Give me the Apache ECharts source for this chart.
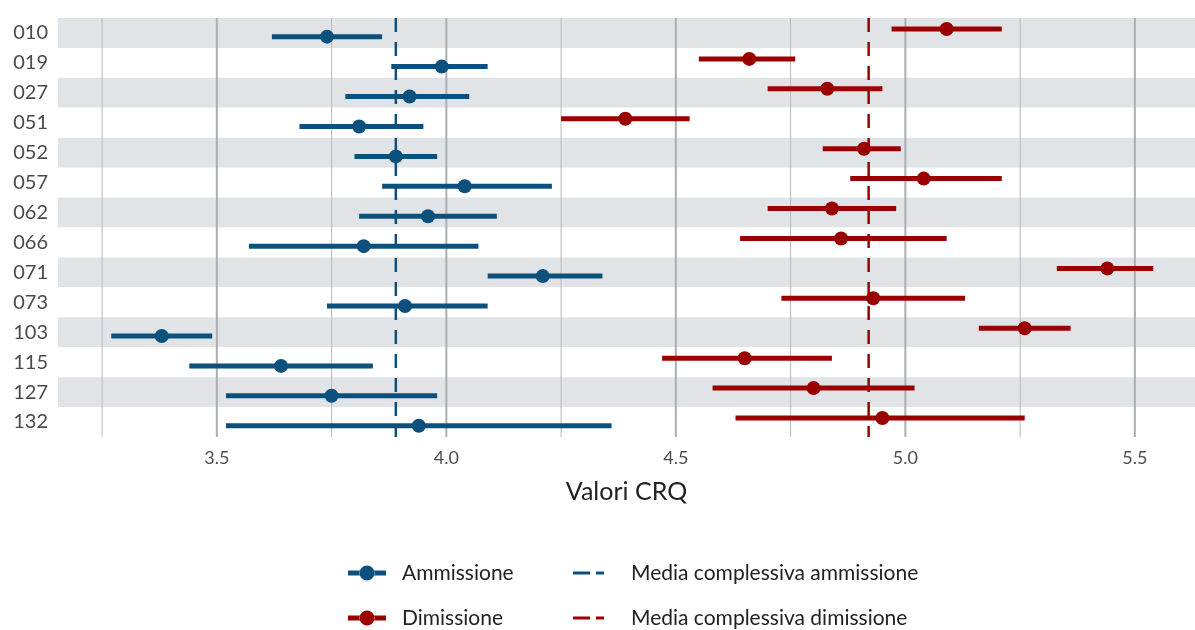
<!DOCTYPE html>
<html>
<head>
<meta charset="utf-8">
<script src="https://cdn.jsdelivr.net/npm/echarts@6/dist/echarts.min.js"></script>
<style>
  html, body { margin: 0; padding: 0; background: #fff; }
  #chart { width: 1195px; height: 630px; }
</style>
</head>
<body>
<div id="chart"></div>
<script>
const categories = ['010', '019', '027', '051', '052', '057', '062', '066', '071', '073', '103', '115', '127', '132']

// Ammissione: lower bound, mean, upper bound
const ammLow = [3.62, 3.88, 3.78, 3.68, 3.80, 3.86, 3.81, 3.57, 4.09, 3.74, 3.27, 3.44, 3.52, 3.52]
const ammMean = [3.74, 3.99, 3.92, 3.81, 3.89, 4.04, 3.96, 3.82, 4.21, 3.91, 3.38, 3.64, 3.75, 3.94]
const ammHigh = [3.86, 4.09, 4.05, 3.95, 3.98, 4.23, 4.11, 4.07, 4.34, 4.09, 3.49, 3.84, 3.98, 4.36]

// Dimissione
const dimLow = [4.97, 4.55, 4.70, 4.25, 4.82, 4.88, 4.70, 4.64, 5.33, 4.73, 5.16, 4.47, 4.58, 4.63]
const dimMean = [5.09, 4.66, 4.83, 4.39, 4.91, 5.04, 4.84, 4.86, 5.44, 4.93, 5.26, 4.65, 4.80, 4.95]
const dimHigh = [5.21, 4.76, 4.95, 4.53, 4.99, 5.21, 4.98, 5.09, 5.54, 5.13, 5.36, 4.84, 5.02, 5.26]

// overall means
const overallAmm = [3.89]
const overallDim = [4.92]

const majorTicks = [3.5, 4.0, 4.5, 5.0, 5.5]
const minorTicks = [3.25, 3.75, 4.25, 4.75, 5.25]

const blue = '#0c507d'
const red = '#9b0000'
const font = 'Lato'

const chart = echarts.init(document.getElementById('chart'))

function rows(lo, mid, hi) {
  return categories.map((c, i) => [i, lo[i], mid[i], hi[i]])
}

function errorBar(offset, color) {
  return function(params, api) {
    const yi = api.value(0)
    const a = api.coord([api.value(1), yi])
    const m = api.coord([api.value(2), yi])
    const b = api.coord([api.value(3), yi])
    const y = a[1] + offset
    return {
      type: 'group',
      children: [
        { type: 'line', shape: { x1: a[0], y1: y, x2: b[0], y2: y }, style: { stroke: color, lineWidth: 5 } },
        { type: 'circle', shape: { cx: m[0], cy: y, r: 7 }, style: { fill: color } }
      ]
    }
  }
}

function vLine(color, width, dash) {
  return function(params, api) {
    const cs = params.coordSys
    const x = api.coord([api.value(0), 0])[0]
    return {
      type: 'line',
      shape: { x1: x, y1: cs.y, x2: x, y2: cs.y + cs.height },
      style: { stroke: color, lineWidth: width, lineDash: dash }
    }
  }
}

const barIcon = 'path://M0,5h12v5H0z M26,5h12v5H26z M11.5,7.5a7.5,7.5 0 1 0 15,0a7.5,7.5 0 1 0 -15,0z'
const dashIcon = 'path://M0,0h17v3H0z M23,0h8v3H23z'

const option = {
  animation: false,
  textStyle: { fontFamily: font },
  grid: { left: 58, right: 0, top: 18, bottom: 193 },
  xAxis: {
    type: 'value',
    min: 3.154,
    max: 5.631,
    name: 'Valori CRQ',
    nameLocation: 'middle',
    nameGap: 42,
    nameTextStyle: { fontSize: 25, color: '#222', fontFamily: font },
    axisLine: { show: false },
    axisTick: { show: false },
    splitLine: { show: false },
    axisLabel: {
      customValues: majorTicks,
      formatter: v => v.toFixed(1),
      fontSize: 18,
      color: '#4d4d4d',
      margin: 12
    }
  },
  yAxis: {
    type: 'category',
    data: categories,
    inverse: true,
    axisLine: { show: false },
    axisTick: { show: false },
    splitLine: { show: false },
    splitArea: { show: true, areaStyle: { color: ['#e1e4e7', '#ffffff'] } },
    axisLabel: { fontSize: 20, color: '#4a4a4a', margin: 10 }
  },
  legend: [
    {
      orient: 'vertical',
      left: 348,
      top: 562,
      height: 70,
      padding: 0,
      itemGap: 23,
      itemWidth: 38,
      itemHeight: 15,
      textStyle: { fontSize: 21, color: '#222', lineHeight: 22, padding: [0, 0, 0, 11] },
      data: [
        { name: 'Ammissione', icon: barIcon, itemStyle: { color: blue, borderWidth: 0 } },
        { name: 'Dimissione', icon: barIcon, itemStyle: { color: red, borderWidth: 0 } }
      ]
    },
    {
      orient: 'vertical',
      left: 573,
      top: 562,
      height: 70,
      padding: 0,
      itemGap: 23,
      itemWidth: 31,
      itemHeight: 3,
      textStyle: { fontSize: 21, color: '#222', lineHeight: 22, padding: [0, 0, 0, 22] },
      data: [
        { name: 'Media complessiva ammissione', icon: dashIcon, itemStyle: { color: blue, borderWidth: 0 } },
        { name: 'Media complessiva dimissione', icon: dashIcon, itemStyle: { color: red, borderWidth: 0 } }
      ]
    }
  ],
  series: [
    {
      name: 'minor grid',
      type: 'custom',
      silent: true,
      z: 1,
      renderItem: vLine('#b8b8b8', 1),
      encode: { x: 0, y: 1 },
      data: minorTicks.map(v => [v, 0])
    },
    {
      name: 'major grid',
      type: 'custom',
      silent: true,
      z: 1,
      renderItem: vLine('#abaeb2', 2),
      encode: { x: 0, y: 1 },
      data: majorTicks.map(v => [v, 0])
    },
    {
      name: 'Media complessiva ammissione',
      type: 'custom',
      z: 2,
      itemStyle: { color: blue },
      renderItem: vLine(blue, 2.5, [14, 10]),
      encode: { x: 0, y: 1 },
      data: overallAmm.map(v => [v, 0])
    },
    {
      name: 'Media complessiva dimissione',
      type: 'custom',
      z: 2,
      itemStyle: { color: red },
      renderItem: vLine(red, 2.5, [14, 10]),
      encode: { x: 0, y: 1 },
      data: overallDim.map(v => [v, 0])
    },
    {
      name: 'Ammissione',
      type: 'custom',
      z: 3,
      itemStyle: { color: blue },
      renderItem: errorBar(3.7, blue),
      encode: { x: [1, 2, 3], y: 0 },
      data: rows(ammLow, ammMean, ammHigh)
    },
    {
      name: 'Dimissione',
      type: 'custom',
      z: 3,
      itemStyle: { color: red },
      renderItem: errorBar(-4, red),
      encode: { x: [1, 2, 3], y: 0 },
      data: rows(dimLow, dimMean, dimHigh)
    }
  ]
}

chart.setOption(option)
</script>
</body>
</html>
